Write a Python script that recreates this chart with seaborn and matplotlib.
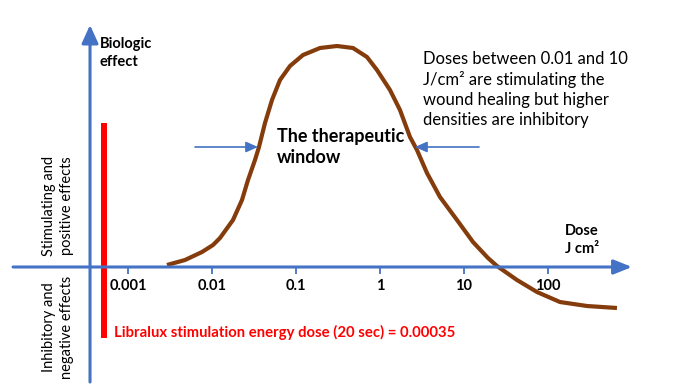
import numpy as np
import pandas as pd
import matplotlib
matplotlib.use("Agg")
import matplotlib.pyplot as plt
import seaborn as sns

# dose-response curve (dose in J/cm2, effect in arbitrary units)
dose = [0.00291, 0.00477, 0.00760, 0.01028, 0.01245, 0.01778, 0.02275, 0.02683,
        0.03249, 0.03626, 0.04276, 0.05179, 0.06449, 0.08483, 0.1212, 0.1931,
        0.3076, 0.4772, 0.700, 0.921, 1.315, 1.730, 2.276, 2.757, 3.626, 5.179,
        8.254, 12.80, 19.31, 24.71, 42.76, 73.96, 138.9, 291.3, 662.9]
effect = [2, 7, 15, 22, 29, 47, 67, 87,
          107, 120, 144, 167, 187, 201, 212, 219,
          221, 219, 210, 197, 177, 157, 130, 117, 94, 70,
          47, 25, 9, 1, -13, -25, -35, -39, -41]

tick_values = [0.001, 0.01, 0.1, 1, 10, 100]
tick_labels = ["0.001", "0.01", "0.1", "1", "10", "100"]

libralux_dose = 0.00052
libralux_bar = (-71, 144)

BLUE = "#4472C4"
BROWN = "#843C0C"

sns.set_theme(style="white")
plt.rcParams["font.family"] = ["Lato", "DejaVu Sans"]
plt.rcParams["text.color"] = "black"
plt.rcParams["xtick.color"] = "black"

fig = plt.figure(figsize=(7, 3.87), dpi=100)
ax = fig.add_axes([0, 0, 1, 1])
ax.set_xscale("log")
ax.set_xlim(10 ** -4.524, 10 ** 3.810)
ax.set_ylim(-120, 267)

df = pd.DataFrame({"dose": dose, "effect": effect})
sns.lineplot(data=df, x="dose", y="effect", ax=ax, color=BROWN, lw=3,
             solid_capstyle="butt", solid_joinstyle="round")

# axes drawn as arrows
ax.annotate("", xy=(1000, 0), xytext=(4.28e-5, 0),
            arrowprops=dict(arrowstyle="-|>,head_length=0.55,head_width=0.22",
                            mutation_scale=20, lw=2.2, color=BLUE,
                            shrinkA=0, shrinkB=0))
ax.annotate("", xy=(0.000353, 242), xytext=(0.000353, -115),
            arrowprops=dict(arrowstyle="-|>,head_length=0.55,head_width=0.25",
                            mutation_scale=20, lw=2.2, color=BLUE,
                            shrinkA=0, shrinkB=0))

# therapeutic window arrows
for start, end in [(0.00628, 0.0353), (15.1, 2.61)]:
    ax.annotate("", xy=(end, 120), xytext=(start, 120),
                arrowprops=dict(arrowstyle="-|>,head_length=0.45,head_width=0.2",
                                mutation_scale=16, lw=1.2, color=BLUE,
                                shrinkA=0, shrinkB=0))

# red Libralux bar
ax.vlines(libralux_dose, *libralux_bar, color="#FF0000", lw=4.3)

# ticks on the dose axis
for s in ax.spines.values():
    s.set_visible(False)
ax.spines["bottom"].set_position(("data", 0))
ax.set_xticks(tick_values)
ax.set_xticklabels(tick_labels, fontweight="bold", fontsize=10.5)
ax.xaxis.set_minor_locator(matplotlib.ticker.NullLocator())
ax.tick_params(axis="x", direction="out", length=5, width=1.3, color=BLUE,
               labelcolor="black", pad=4, bottom=True)
ax.set_yticks([])
ax.set_xlabel("")
ax.set_ylabel("")


def px(x, y):
    return x / 700, 1 - y / 387


ax.text(*px(100, 53), "Biologic\neffect", transform=ax.transAxes, fontsize=10.5,
        fontweight="bold", ha="left", va="center", linespacing=1.3)
ax.text(*px(565, 240), "Dose\nJ cm²", transform=ax.transAxes, fontsize=10.5,
        fontweight="bold", ha="left", va="center", linespacing=1.3)
ax.text(*px(277, 147), "The therapeutic\nwindow", transform=ax.transAxes,
        fontsize=13, fontweight="bold", ha="left", va="center", linespacing=1.25)
ax.text(*px(423, 89), "Doses between 0.01 and 10\nJ/cm² are stimulating the\n"
        "wound healing but higher\ndensities are inhibitory",
        transform=ax.transAxes, fontsize=12, ha="left", va="center",
        linespacing=1.3)
ax.text(*px(114, 332), "Libralux stimulation energy dose (20 sec) = 0.00035",
        transform=ax.transAxes, fontsize=10.7, fontweight="bold", color="#FF0000",
        ha="left", va="center")
ax.text(*px(58, 206), "Stimulating and\npositive effects", transform=ax.transAxes,
        fontsize=10.5, rotation=90, ha="center", va="center", multialignment="center",
        linespacing=1.35)
ax.text(*px(58, 327), "Inhibitory and\nnegative effects", transform=ax.transAxes,
        fontsize=10.5, rotation=90, ha="center", va="center", multialignment="center",
        linespacing=1.35)

fig.savefig("out.png", dpi=100)
